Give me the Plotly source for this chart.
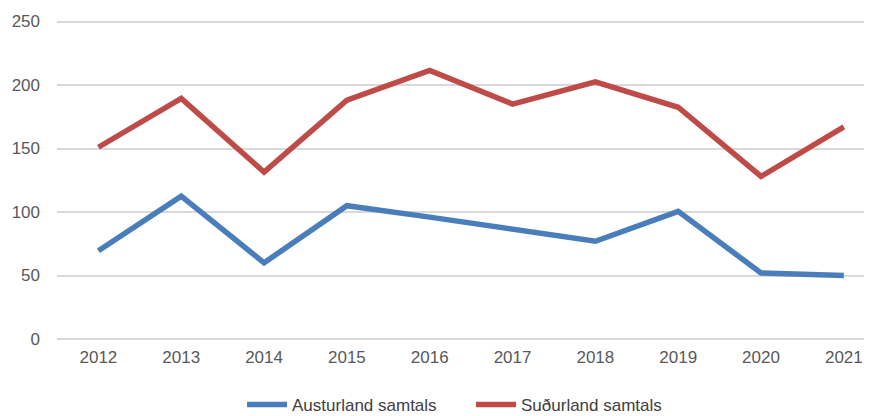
import plotly.graph_objects as go

years = ["2012", "2013", "2014", "2015", "2016", "2017", "2018", "2019", "2020", "2021"]
austurland = [69.5, 112.5, 60, 105, 96, 86, 77, 100.5, 52, 50]
sudurland = [151, 189.5, 131.5, 188, 211.5, 185, 202.5, 182.5, 128, 167]
y_ticks = [0, 50, 100, 150, 200, 250]

FONT = "Liberation Sans, Arial, sans-serif"

fig = go.Figure()
fig.add_trace(go.Scatter(x=years, y=austurland, mode="lines", name="Austurland samtals",
                         line=dict(color="#4a7ebb", width=5.5)))
fig.add_trace(go.Scatter(x=years, y=sudurland, mode="lines", name="Suðurland samtals",
                         line=dict(color="#be4b48", width=5.5)))

# page body has an 8px margin; compensate so the chart lands where the reference is
fig.update_layout(
    width=864, height=408,
    margin=dict(l=49, r=0, t=11, b=77, autoexpand=False),
    paper_bgcolor="white", plot_bgcolor="white",
    font=dict(family=FONT, size=17, color="#595959"),
    showlegend=True,
    legend=dict(orientation="h", x=0.508, xanchor="center", y=-0.15, yanchor="top",
                font=dict(family=FONT, size=17, color="#404040"),
                itemwidth=40, tracegroupgap=0, entrywidth=174),
    xaxis=dict(type="category", range=[-0.5, 9.34], showgrid=False, showline=False,
               ticks="", tickfont=dict(size=17, color="#595959"), ticklabelstandoff=6),
    yaxis=dict(range=[0, 252], tickvals=y_ticks, showgrid=True, gridcolor="#d9d9d9",
               gridwidth=1.5, zeroline=True, zerolinecolor="#d9d9d9", zerolinewidth=1.5,
               showline=False, ticks="", ticklabelstandoff=16,
               tickfont=dict(size=17, color="#595959")),
)

fig.write_html("out.html")
